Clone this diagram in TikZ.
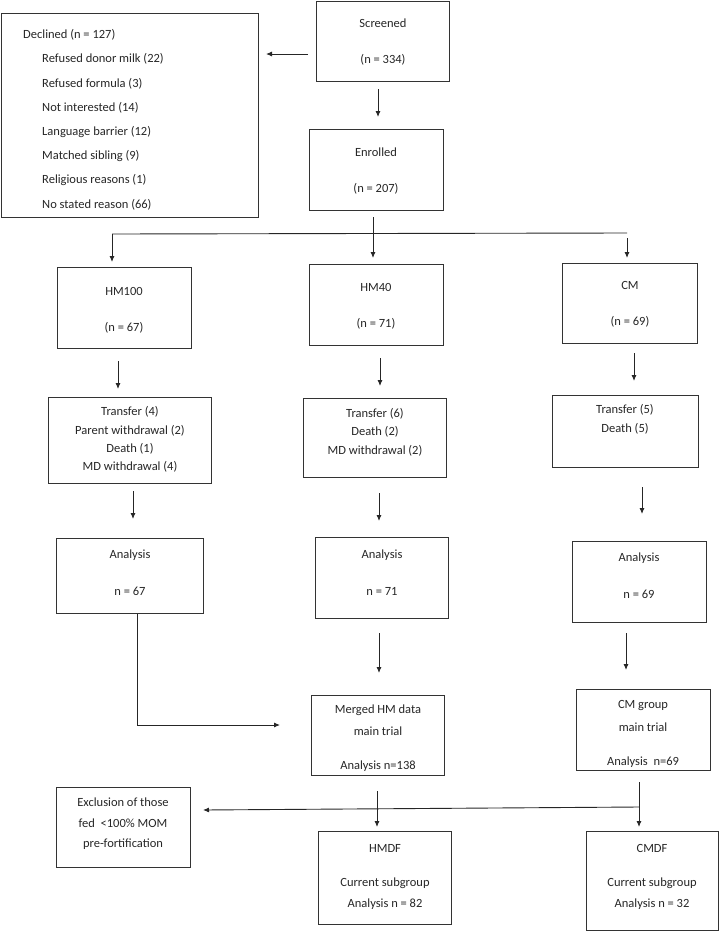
\documentclass[tikz,border=0pt]{standalone}
\usepackage{fontspec}
\setmainfont{Carlito}
\usetikzlibrary{arrows.meta}
\begin{document}
\begin{tikzpicture}[x=1pt,y=-1pt,
  box/.style={draw=black!80,line width=1pt,inner sep=0pt},
  txt/.style={inner sep=0pt,font=\fontsize{12.5}{15}\selectfont,text=black!85},
  arr/.style={draw=black!85,line width=0.9pt,-{Latex[length=6pt,width=5pt]}},
  ln/.style={draw=black!85,line width=0.9pt}]
\useasboundingbox (0,0) rectangle (720,932);
% boxes
\node[box,minimum width=257pt,minimum height=204pt] (dec) at (130,115) {};
\node[box,minimum width=133pt,minimum height=80pt] (scr) at (383,41) {};
\node[box,minimum width=134pt,minimum height=81pt] (enr) at (376,170) {};
\node[box,minimum width=134pt,minimum height=81pt] (hma) at (124,308) {};
\node[box,minimum width=134pt,minimum height=81pt] (hmb) at (376,305) {};
\node[box,minimum width=135pt,minimum height=80pt] (cm) at (630,303) {};
\node[box,minimum width=163pt,minimum height=86pt] (lossa) at (130,440) {};
\node[box,minimum width=143pt,minimum height=79pt] (lossb) at (375,438) {};
\node[box,minimum width=146pt,minimum height=72pt] (lossc) at (625,431) {};
\node[box,minimum width=147pt,minimum height=75pt] (ana) at (130,576) {};
\node[box,minimum width=133pt,minimum height=81pt] (anb) at (382,578) {};
\node[box,minimum width=134pt,minimum height=81pt] (anc) at (639,582) {};
\node[box,minimum width=133pt,minimum height=80pt] (mrg) at (378,735) {};
\node[box,minimum width=134pt,minimum height=81pt] (cmg) at (643,730) {};
\node[box,minimum width=134pt,minimum height=80pt] (exc) at (123,827) {};
\node[box,minimum width=133pt,minimum height=93pt] (hmdf) at (385,878) {};
\node[box,minimum width=132pt,minimum height=99pt] (cmdf) at (652,881) {};
% texts
\node[txt,anchor=west] at (23,35) {Declined (n = 127)};
\foreach \t [count=\i] in {Refused donor milk (22),Refused formula (3),Not interested (14),Language barrier (12),Matched sibling (9),Religious reasons (1),No stated reason (66)}
  \node[txt,anchor=west] at (42,35+24.2*\i) {\t};
\node[txt] at (383,23) {Screened};
\node[txt] at (383,60) {(n = 334)};
\node[txt] at (376,152) {Enrolled};
\node[txt] at (376,189) {(n = 207)};
\node[txt] at (124,291) {HM100};
\node[txt] at (124,328) {(n = 67)};
\node[txt] at (376,287) {HM40};
\node[txt] at (376,324) {(n = 71)};
\node[txt] at (630,285) {CM};
\node[txt] at (630,322) {(n = 69)};
\node[txt] at (130,412) {Transfer (4)};
\node[txt] at (130,431) {Parent withdrawal (2)};
\node[txt] at (130,449) {Death (1)};
\node[txt] at (130,467) {MD withdrawal (4)};
\node[txt] at (375,414) {Transfer (6)};
\node[txt] at (375,432) {Death (2)};
\node[txt] at (375,451) {MD withdrawal (2)};
\node[txt] at (625,410) {Transfer (5)};
\node[txt] at (625,429) {Death (5)};
\node[txt] at (130,555) {Analysis};
\node[txt] at (130,591) {n = 67};
\node[txt] at (382,555) {Analysis};
\node[txt] at (382,591) {n = 71};
\node[txt] at (639,558) {Analysis};
\node[txt] at (639,594) {n = 69};
\node[txt] at (378,710) {Merged HM data};
\node[txt] at (378,731) {main trial};
\node[txt] at (378,766) {Analysis n=138};
\node[txt] at (643,706) {CM group};
\node[txt] at (643,727) {main trial};
\node[txt] at (643,762) {Analysis\ \ n=69};
\node[txt] at (123,802) {Exclusion of those};
\node[txt] at (123,823) {fed\ \ <100\% MOM};
\node[txt] at (123,844) {pre-fortification};
\node[txt] at (385,848) {HMDF};
\node[txt] at (385,883) {Current subgroup};
\node[txt] at (385,904) {Analysis n = 82};
\node[txt] at (652,848) {CMDF};
\node[txt] at (652,883) {Current subgroup};
\node[txt] at (652,904) {Analysis n = 32};
% connector ends
\coordinate (s1) at (308,54); \coordinate (s2) at (266,54);
\coordinate (s3) at (378,89); \coordinate (s4) at (378,117);
\coordinate (e1) at (373,217); \coordinate (e2) at (373,258);
\coordinate (bl) at (112,234); \coordinate (br) at (627,233);
\coordinate (bl2) at (112,262); \coordinate (br2) at (627,258);
\coordinate (a1) at (118,361); \coordinate (a2) at (118,389);
\coordinate (b1) at (380,358); \coordinate (b2) at (380,386);
\coordinate (c1) at (634,353); \coordinate (c2) at (634,381);
\coordinate (a3) at (133,491); \coordinate (a4) at (133,519);
\coordinate (b3) at (379,493); \coordinate (b4) at (379,521);
\coordinate (c3) at (642,487); \coordinate (c4) at (642,514);
\coordinate (lq) at (137,725); \coordinate (lt) at (280,725);
\coordinate (b5) at (379,633); \coordinate (b6) at (379,673);
\coordinate (c5) at (626,633); \coordinate (c6) at (626,670);
\coordinate (m1) at (377,791); \coordinate (m2) at (377,827);
\coordinate (g1) at (639,782); \coordinate (g2) at (639,807); \coordinate (g3) at (639,827);
\coordinate (xt) at (203,810);
% connectors
\draw[arr] (s1) -- (s2);
\draw[arr] (s3) -- (s4);
\draw[arr] (e1) -- (e2);
\draw[ln] (bl) -- (br);
\draw[arr] (bl) -- (bl2);
\draw[arr] ([yshift=-5pt]br) -- (br2);
\draw[arr] (a1) -- (a2);
\draw[arr] (b1) -- (b2);
\draw[arr] (c1) -- (c2);
\draw[arr] (a3) -- (a4);
\draw[arr] (b3) -- (b4);
\draw[arr] (c3) -- (c4);
\draw[arr] (ana.south -| lq) -- (lq) -- (lt);
\draw[arr] (b5) -- (b6);
\draw[arr] (c5) -- (c6);
\draw[arr] (m1) -- (m2);
\draw[arr] (g1) -- (g3);
\draw[arr] (g2) -- (xt);
\end{tikzpicture}
\end{document}
